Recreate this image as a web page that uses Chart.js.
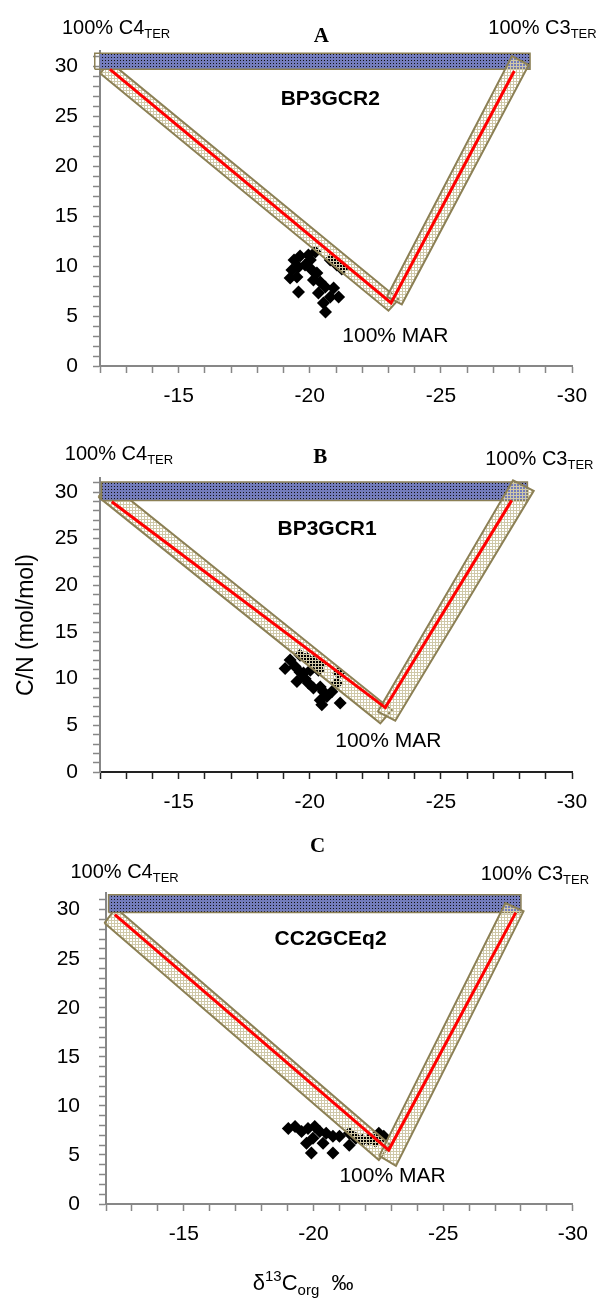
<!DOCTYPE html>
<html>
<head>
<meta charset="utf-8">
<script src="https://cdn.jsdelivr.net/npm/chart.js@4.4.1/dist/chart.umd.min.js"></script>
<style>
  body { margin: 0; background: #fff; }
  #wrap { position: relative; width: 599px; height: 1299px; }
  canvas { position: absolute; left: 0; }
</style>
</head>
<body>
<div id="wrap">
  <canvas id="panelA" width="599" height="420" style="top:0px"></canvas>
  <canvas id="panelB" width="599" height="410" style="top:420px"></canvas>
  <canvas id="panelC" width="599" height="469" style="top:830px"></canvas>
</div>
<script>
// ---- panel A : BP3GCR2 ----
const sampleXA = [-19.40, -19.63, -19.95, -19.32, -19.57, -19.25, -19.51, -19.82, -20.08, -20.27, -20.14, -20.40, -20.59,
  -20.91, -21.10, -20.78, -20.52, -20.60, -19.57, -20.33, -20.02, -20.21, -20.78, -21.03, -21.22];
const sampleYA = [10.6, 11.0, 11.1, 9.6, 9.9, 8.8, 8.9, 10.1, 9.6, 9.3, 8.6, 8.4, 7.9,
  7.8, 6.9, 6.9, 6.3, 5.4, 7.4, 7.3, 10.6, 11.4, 10.6, 10.1, 9.7];
const mixXA = [-12.38, -23.1, -27.8];
const mixYA = [29.67, 6.3, 29.5];
const c4BandXA = [-12.0, -12.38, -23.39, -23.0];
const c4BandYA = [29.27, 30.41, 6.67, 5.53];
const c3BandXA = [-22.94, -23.51, -28.35, -27.71];
const c3BandYA = [6.93, 6.17, 30.1, 31.0];
const terBandXA = [-11.8, -28.4];
const terBandYA = [29.67, 31.27];

// ---- panel B : BP3GCR1 ----
const sampleXB = [-19.06, -19.25, -19.44, -19.63, -19.51, -19.82, -19.95, -20.14, -20.40, -20.52, -20.40, -20.65,
  -20.84, -20.46, -21.16, -19.76, -20.02, -19.63, -19.89, -20.14, -20.40, -20.33, -21.10, -21.03];
const sampleYB = [11.1, 12.0, 11.3, 10.7, 9.7, 10.0, 9.5, 9.0, 9.1, 8.6, 7.7, 8.1,
  8.6, 7.2, 7.4, 10.6, 10.9, 12.5, 12.2, 11.8, 11.6, 10.9, 10.6, 9.5];
const mixXB = [-12.45, -22.88, -27.7];
const mixYB = [28.95, 6.9, 29.1];
const c4BandXB = [-11.94, -12.38, -23.13, -22.69];
const c4BandYB = [29.48, 30.9, 6.64, 5.21];
const c3BandXB = [-22.59, -23.26, -28.54, -27.75];
const c3BandYB = [6.46, 5.5, 30.12, 31.26];
const terBandXB = [-12.06, -28.3];
const terBandYB = [29.1, 31.08];

// ---- panel C : CC2GCEq2 ----
const sampleXC = [-19.03, -19.29, -19.54, -19.79, -20.05, -20.24, -20.49, -19.73, -19.98, -20.75, -21.00,
  -19.92, -20.75, -21.38, -20.37, -21.38, -21.63, -21.89, -22.14, -22.39, -22.52, -22.71];
const sampleYC = [7.7, 7.9, 7.4, 7.7, 7.9, 7.4, 7.2, 6.2, 6.7, 6.9, 6.9,
  5.2, 5.2, 6.0, 6.2, 7.2, 6.7, 6.5, 6.6, 6.4, 7.2, 6.9];
const mixXC = [-12.34, -22.9, -27.8];
const mixYC = [29.5, 5.5, 29.7];
const c4BandXC = [-11.94, -12.38, -22.96, -22.52];
const c4BandYC = [28.64, 30.17, 6.02, 4.49];
const c3BandXC = [-22.54, -23.18, -28.1, -27.4];
const c3BandYC = [4.9, 3.88, 29.83, 30.68];
const terBandXC = [-12.1, -28.0];
const terBandYC = [29.72, 31.53];

// axis ranges / ticks
const xMin = -30, xMax = -12, xMajor = 5;
const yMin = 0, yMajor = 5;

Chart.defaults.font.family = '"Liberation Sans", Arial, sans-serif';
Chart.defaults.font.size = 21;
Chart.defaults.color = '#000';

function pts(xs, ys) {
  return xs.map((x, i) => ({x: x, y: ys[i]}));
}

// closed outline for fill:'shape'
function shape(xs, ys) {
  let p = pts(xs, ys);
  p.push(p[0]);
  return p;
}

function rect(xs, ys) {
  return shape([xs[0], xs[1], xs[1], xs[0]], [ys[0], ys[0], ys[1], ys[1]]);
}

function makePattern(base, ink, dots) {
  let c = document.createElement('canvas');
  c.width = 3;
  c.height = 3;
  let g = c.getContext('2d');
  if (base) {
    g.fillStyle = base;
    g.fillRect(0, 0, 3, 3);
  }
  g.fillStyle = ink;
  if (dots) {
    g.fillRect(0, 0, 1, 1);
  } else {
    g.fillRect(0, 0, 3, 1);
    g.fillRect(0, 0, 1, 3);
  }
  return g.createPattern(c, 'repeat');
}

const beigeFill = makePattern(null, '#cfc8a8', false);
const blueFill = makePattern('#737cbc', '#111111', true);
const olive = '#8c8055';

// text boxes (positioned in data units) with sub/superscripts
function notes(items) {
  return {
    id: 'notes',
    afterDraw(chart) {
      let ctx = chart.ctx;
      let xs = chart.scales.x, ys = chart.scales.y;
      items.forEach(item => {
        let px = xs.getPixelForValue(item.x);
        let py = ys.getPixelForValue(item.y);
        ctx.save();
        ctx.fillStyle = '#000';
        ctx.textBaseline = 'alphabetic';
        ctx.textAlign = 'left';
        let fonts = item.parts.map(p => (p.bold ? 'bold ' : '') + p.size + 'px ' + (p.family || '"Liberation Sans", Arial, sans-serif'));
        let widths = item.parts.map((p, i) => {
          ctx.font = fonts[i];
          return ctx.measureText(p.text).width;
        });
        let total = widths.reduce((a, b) => a + b, 0);
        if (item.align === 'center') px -= total / 2;
        item.parts.forEach((p, i) => {
          ctx.font = fonts[i];
          ctx.fillText(p.text, px, py + (p.dy || 0));
          px += widths[i];
        });
        ctx.restore();
      });
    }
  };
}

function endLabel(x, y, num) {
  return {x: x, y: y, parts: [{text: '100% C' + num, size: 20}, {text: 'TER', size: 13, dy: 4}]};
}
function panelTitle(x, y, letter) {
  return {x: x, y: y, align: 'center', parts: [{text: letter, size: 21, bold: true, family: '"Liberation Serif", "Times New Roman", serif'}]};
}
function coreLabel(x, y, name) {
  return {x: x, y: y, align: 'center', parts: [{text: name, size: 21, bold: true}]};
}
function marLabel(x, y) {
  return {x: x, y: y, parts: [{text: '100% MAR', size: 21}]};
}

function makePanel(id, p) {
  let ctx = document.getElementById(id).getContext('2d');

  new Chart(ctx, {
    type: 'scatter',
    data: {
      datasets: [{
        // mixing line (top-most)
        data: pts(p.mixX, p.mixY),
        showLine: true,
        fill: false,
        borderColor: '#ff0000',
        borderWidth: 3,
        pointRadius: 0,
        clip: false
      }, {
        // C3 terrestrial band
        data: shape(p.c3X, p.c3Y),
        showLine: true,
        fill: 'shape',
        backgroundColor: beigeFill,
        borderColor: olive,
        borderWidth: 2,
        pointRadius: 0,
        clip: false
      }, {
        // terrestrial C/N band
        data: rect(p.terX, p.terY),
        showLine: true,
        fill: 'shape',
        backgroundColor: blueFill,
        borderColor: olive,
        borderWidth: 1.5,
        pointRadius: 0,
        clip: false
      }, {
        // C4 terrestrial band
        data: shape(p.c4X, p.c4Y),
        showLine: true,
        fill: 'shape',
        backgroundColor: beigeFill,
        borderColor: olive,
        borderWidth: 2,
        pointRadius: 0,
        clip: false
      }, {
        data: pts(p.sampleX, p.sampleY),
        pointStyle: 'rectRot',
        pointRadius: 6.5,
        backgroundColor: '#000',
        borderWidth: 0
      }]
    },
    options: {
      responsive: false,
      animation: false,
      events: [],
      layout: {
        padding: {left: 0, top: p.top, right: p.right, bottom: 0}
      },
      plugins: {
        legend: {display: false},
        tooltip: {enabled: false}
      },
      scales: {
        x: {
          type: 'linear',
          reverse: true,
          min: xMin,
          max: xMax,
          afterFit: s => { s.height = p.xAxisH; },
          ticks: {
            stepSize: 1,
            autoSkip: false,
            maxRotation: 0,
            padding: 11,
            callback: v => (v % xMajor === 0 ? v : '')
          },
          grid: {drawOnChartArea: false, tickLength: 7, color: p.xColor, tickWidth: 1.5},
          border: {color: p.xColor, width: 2}
        },
        y: {
          min: yMin,
          max: p.yMax,
          afterFit: s => { s.width = p.left; },
          ticks: {
            stepSize: 1,
            includeBounds: false,
            autoSkip: false,
            padding: p.yPad,
            callback: v => (v % yMajor === 0 ? v : '')
          },
          grid: {drawOnChartArea: false, tickLength: 7, color: '#878787', tickWidth: 1.5},
          border: {color: '#878787', width: 2},
          title: {
            display: !!p.yTitle,
            text: p.yTitle || '',
            font: {size: 23},
            padding: {top: 13, bottom: 0}
          }
        }
      }
    },
    plugins: [notes(p.notes)]
  });
}

makePanel('panelA', {
  sampleX: sampleXA, sampleY: sampleYA, mixX: mixXA, mixY: mixYA,
  c4X: c4BandXA, c4Y: c4BandYA, c3X: c3BandXA, c3Y: c3BandYA, terX: terBandXA, terY: terBandYA,
  top: 51, right: 27, left: 100, xAxisH: 54, yMax: 31.5, yPad: 15, xColor: '#878787',
  notes: [
    endLabel(-10.55, 33.2, 4),
    panelTitle(-20.44, 32.4, 'A'),
    coreLabel(-20.78, 26.1, 'BP3GCR2'),
    endLabel(-26.81, 33.2, 3),
    marLabel(-21.24, 2.4)
  ]
});

makePanel('panelB', {
  sampleX: sampleXB, sampleY: sampleYB, mixX: mixXB, mixY: mixYB,
  c4X: c4BandXB, c4Y: c4BandYB, c3X: c3BandXB, c3Y: c3BandYB, terX: terBandXB, terY: terBandYB,
  top: 58, right: 27, left: 100, xAxisH: 58, yMax: 31.5, yPad: 15, xColor: '#222222',
  yTitle: 'C/N (mol/mol)',
  notes: [
    endLabel(-10.66, 33.44, 4),
    panelTitle(-20.40, 33.1, 'B'),
    coreLabel(-20.66, 25.4, 'BP3GCR1'),
    endLabel(-26.69, 32.9, 3),
    marLabel(-20.97, 2.71)
  ]
});

makePanel('panelC', {
  sampleX: sampleXC, sampleY: sampleYC, mixX: mixXC, mixY: mixYC,
  c4X: c4BandXC, c4Y: c4BandYC, c3X: c3BandXC, c3Y: c3BandYC, terX: terBandXC, terY: terBandYC,
  top: 63, right: 21, left: 106, xAxisH: 95, yMax: 31.7, yPad: 19, xColor: '#878787',
  notes: [
    endLabel(-10.63, 33.27, 4),
    panelTitle(-20.16, 35.9, 'C'),
    coreLabel(-20.66, 26.4, 'CC2GCEq2'),
    endLabel(-26.45, 33.06, 3),
    marLabel(-21.0, 2.28),
    {x: -19.6, y: -8.78, align: 'center', parts: [
      {text: 'δ', size: 22},
      {text: '13', size: 15, dy: -9},
      {text: 'C', size: 22},
      {text: 'org', size: 15, dy: 5},
      {text: '  ‰', size: 22}
    ]}
  ]
});
</script>
</body>
</html>
